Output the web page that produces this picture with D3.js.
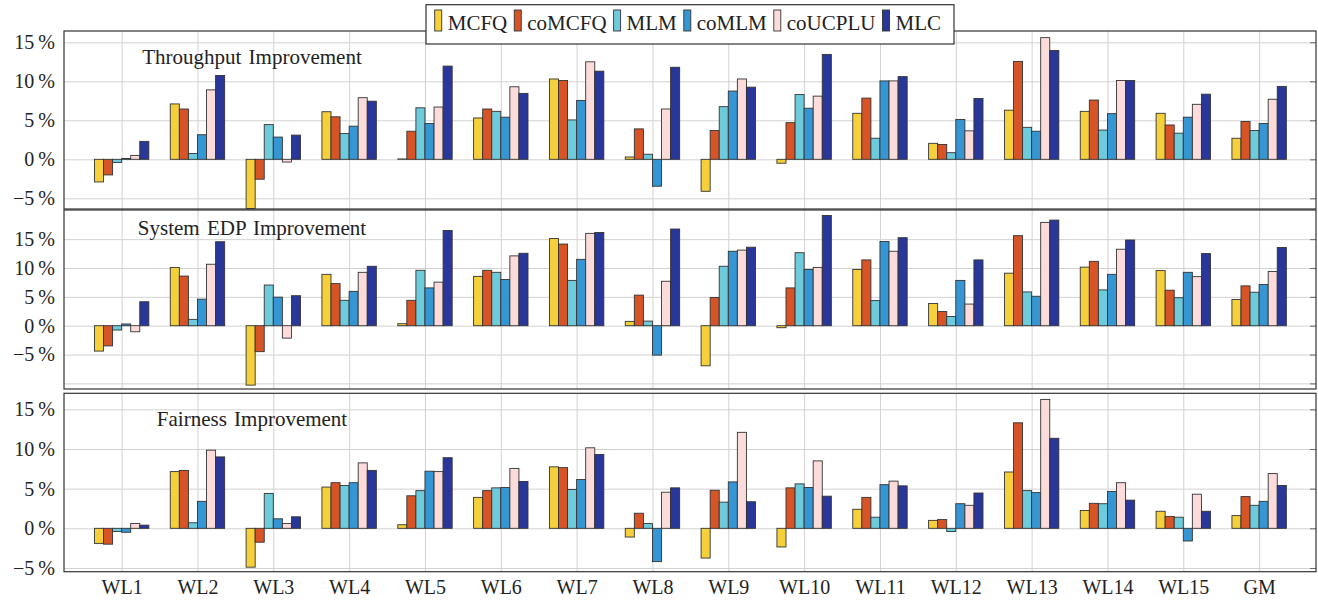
<!DOCTYPE html>
<html>
<head>
<meta charset="utf-8">
<title>Improvement</title>
<style>
body{margin:0;background:#fff;}
svg text{font-family:"Liberation Serif","Times New Roman",serif;fill:#222;}
</style>
</head>
<body>
<svg id="chart"></svg>
<script src="https://d3js.org/d3.v7.min.js"></script>
<script>
const categories = ['WL1','WL2','WL3','WL4','WL5','WL6','WL7','WL8','WL9','WL10','WL11','WL12','WL13','WL14','WL15','GM'];
const series = ['MCFQ','coMCFQ','MLM','coMLM','coUCPLU','MLC'];
const colors = ['#f5d03a','#d75427','#6ecbdc','#3696d4','#fcdcda','#29379a'];

// one row per series, one value per workload (percent)
const throughput = [
  [-2.9, 7.1, -6.3, 6.1, 0.05, 5.3, 10.3, 0.3, -4.1, -0.5, 5.9, 2.05, 6.3, 6.15, 5.9, 2.7],
  [-2.0, 6.45, -2.55, 5.45, 3.6, 6.45, 10.1, 3.9, 3.7, 4.7, 7.85, 1.9, 12.55, 7.6, 4.4, 4.85],
  [-0.4, 0.75, 4.45, 3.3, 6.6, 6.15, 5.05, 0.65, 6.75, 8.3, 2.7, 0.85, 4.1, 3.75, 3.35, 3.7],
  [0.1, 3.15, 2.85, 4.25, 4.6, 5.4, 7.55, -3.45, 8.75, 6.55, 10.05, 5.1, 3.6, 5.85, 5.4, 4.6],
  [0.5, 8.9, -0.35, 7.9, 6.7, 9.3, 12.5, 6.45, 10.3, 8.1, 10.05, 3.65, 15.6, 10.1, 7.05, 7.7],
  [2.3, 10.75, 3.1, 7.45, 11.95, 8.45, 11.3, 11.8, 9.25, 13.45, 10.6, 7.8, 13.95, 10.1, 8.35, 9.35]
];
const edp = [
  [-4.4, 10.1, -10.3, 8.9, 0.35, 8.55, 15.1, 0.75, -6.95, -0.35, 9.75, 3.85, 9.1, 10.15, 9.55, 4.55],
  [-3.5, 8.6, -4.5, 7.3, 4.4, 9.6, 14.15, 5.3, 4.9, 6.55, 11.4, 2.45, 15.6, 11.15, 6.15, 6.9],
  [-0.75, 1.1, 7.05, 4.4, 9.6, 9.25, 7.85, 0.8, 10.3, 12.65, 4.35, 1.6, 5.85, 6.2, 4.85, 5.8],
  [0.3, 4.6, 4.95, 5.95, 6.55, 8.0, 11.5, -5.1, 12.9, 9.75, 14.6, 7.85, 5.1, 8.9, 9.25, 7.15],
  [-1.05, 10.65, -2.15, 9.25, 7.55, 12.1, 16.0, 7.7, 13.1, 10.1, 12.9, 3.75, 17.9, 13.25, 8.5, 9.4],
  [4.15, 14.55, 5.2, 10.3, 16.5, 12.55, 16.15, 16.75, 13.6, 19.1, 15.25, 11.4, 18.3, 14.85, 12.5, 13.55]
];
const fairness = [
  [-1.9, 7.15, -4.9, 5.2, 0.45, 3.9, 7.75, -1.1, -3.75, -2.35, 2.4, 1.0, 7.1, 2.25, 2.15, 1.6],
  [-2.0, 7.3, -1.75, 5.75, 4.1, 4.75, 7.65, 1.9, 4.8, 5.1, 3.9, 1.1, 13.3, 3.15, 1.5, 4.0],
  [-0.4, 0.7, 4.4, 5.4, 4.75, 5.1, 4.9, 0.6, 3.3, 5.6, 1.4, -0.4, 4.75, 3.1, 1.4, 2.9],
  [-0.5, 3.4, 1.2, 5.75, 7.2, 5.15, 6.15, -4.2, 5.85, 5.15, 5.5, 3.1, 4.5, 4.65, -1.6, 3.4],
  [0.6, 9.85, 0.6, 8.25, 7.15, 7.55, 10.15, 4.55, 12.1, 8.5, 5.95, 2.9, 16.25, 5.75, 4.3, 6.9],
  [0.4, 9.0, 1.45, 7.3, 8.9, 5.9, 9.3, 5.1, 3.35, 4.05, 5.35, 4.45, 11.35, 3.55, 2.15, 5.4]
];

const yTicks = [-5, 0, 5, 10, 15];
const yTicksEdp = [-10, -5, 0, 5, 10, 15];
const yTickLabels = {'-5': '\u22125\u2009%', '0': '0\u2009%', '5': '5\u2009%', '10': '10\u2009%', '15': '15\u2009%'};

const width = 1318, height = 602;
const left = 64, right = 1316;

const svg = d3.select('#chart')
  .attr('width', width)
  .attr('height', height);

const x = d3.scaleLinear()
  .domain([-0.76, 15.75])
  .range([left, right]);

const inner = d3.scaleBand()
  .domain(series)
  .range([-27.2, 27.2]);

const panels = [
  {title: 'Throughput Improvement', data: throughput, domain: [-6.37, 16.45], top: 31, bottom: 209, ticks: yTicks, titleY: 64},
  {title: 'System EDP Improvement', data: edp, domain: [-10.97, 20.05], top: 210, bottom: 389, ticks: yTicksEdp, titleY: 235},
  {title: 'Fairness Improvement', data: fairness, domain: [-5.47, 17.02], top: 393.3, bottom: 571.7, ticks: yTicks, titleY: 426}
];

panels.forEach((p, pi) => {
  const y = d3.scaleLinear().domain(p.domain).range([p.bottom, p.top]);
  const g = svg.append('g');

  g.append('clipPath').attr('id', 'clip' + pi)
    .append('rect')
    .attr('x', left).attr('y', p.top)
    .attr('width', right - left).attr('height', p.bottom - p.top);

  // grid
  g.append('g')
    .attr('transform', `translate(${left},0)`)
    .call(d3.axisLeft(y).tickValues(p.ticks).tickSize(-(right - left)).tickFormat(''))
    .call(a => a.select('.domain').remove())
    .selectAll('line').attr('stroke', '#d2d2d2').attr('stroke-width', 1);

  g.append('g')
    .attr('transform', `translate(0,${p.bottom})`)
    .call(d3.axisBottom(x).tickValues(d3.range(categories.length)).tickSize(-(p.bottom - p.top)).tickFormat(''))
    .call(a => a.select('.domain').remove())
    .selectAll('line').attr('stroke', '#d2d2d2').attr('stroke-width', 1);

  // small tick marks inside right edge
  g.append('g')
    .attr('transform', `translate(${right},0)`)
    .call(d3.axisRight(y).tickValues(p.ticks).tickSize(-6).tickFormat(''))
    .call(a => a.select('.domain').remove())
    .selectAll('line').attr('stroke', '#666');

  // bars
  const bars = g.append('g').attr('clip-path', `url(#clip${pi})`);
  p.data.forEach((vals, si) => {
    bars.selectAll(null)
      .data(vals)
      .enter().append('rect')
      .attr('x', (d, i) => x(i) + inner(series[si]))
      .attr('y', d => y(Math.max(0, d)))
      .attr('width', inner.bandwidth())
      .attr('height', d => Math.abs(y(d) - y(0)))
      .attr('fill', colors[si])
      .attr('stroke', '#333')
      .attr('stroke-width', 0.9);
  });

  // frame
  g.append('rect')
    .attr('x', left).attr('y', p.top)
    .attr('width', right - left).attr('height', p.bottom - p.top)
    .attr('fill', 'none')
    .attr('stroke', '#333')
    .attr('stroke-width', 1.2);

  // y labels
  g.append('g')
    .attr('transform', `translate(${left - 6},0)`)
    .call(d3.axisLeft(y).tickValues(p.ticks.filter(t => t >= -5)).tickSize(0).tickFormat(d => yTickLabels[d]))
    .call(a => a.select('.domain').remove())
    .selectAll('text')
    .attr('font-size', 20)
    .attr('font-family', '"Liberation Serif", serif')
    .attr('fill', '#222');

  g.append('text')
    .attr('x', 252)
    .attr('y', p.titleY)
    .attr('text-anchor', 'middle')
    .attr('font-size', 21)
    .attr('word-spacing', 2)
    .text(p.title);
});

// x labels
svg.append('g')
  .attr('transform', 'translate(0,571.7)')
  .call(d3.axisBottom(x).tickValues(d3.range(categories.length)).tickSize(0).tickPadding(8).tickFormat(i => categories[i]))
  .call(a => a.select('.domain').remove())
  .selectAll('text')
  .attr('font-size', 20)
  .attr('font-family', '"Liberation Serif", serif')
  .attr('fill', '#222');

// legend
const legend = svg.append('g');
const box = legend.append('rect')
  .attr('fill', '#fff')
  .attr('stroke', '#333')
  .attr('stroke-width', 1.2);
let lx = 0;
series.forEach((s, i) => {
  legend.append('rect')
    .attr('x', lx).attr('y', 10)
    .attr('width', 7).attr('height', 21)
    .attr('fill', colors[i])
    .attr('stroke', '#333')
    .attr('stroke-width', 0.9);
  const t = legend.append('text')
    .attr('x', lx + 13).attr('y', 30)
    .attr('font-size', 21)
    .text(s);
  lx += 13 + t.node().getComputedTextLength() + 7;
});
const contentW = lx - 7;
const boxW = contentW + 8.7 + 13;
const boxX = (left + right) / 2 - boxW / 2;
box.attr('x', -8.7).attr('y', 4.7).attr('width', boxW).attr('height', 39.3);
legend.attr('transform', `translate(${boxX + 8.7},0)`);
</script>
</body>
</html>
